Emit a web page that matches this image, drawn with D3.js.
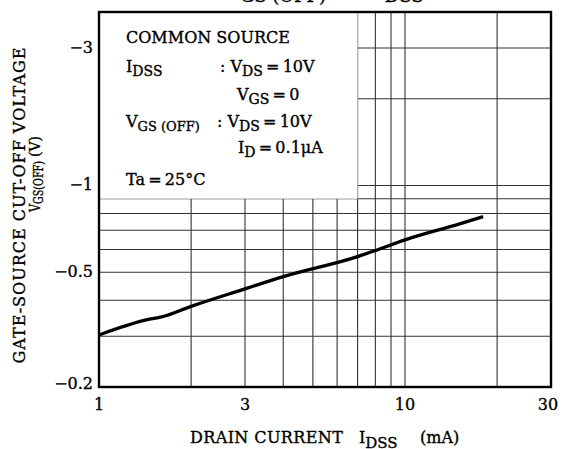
<!DOCTYPE html>
<html>
<head>
<meta charset="utf-8">
<script src="https://cdn.jsdelivr.net/npm/d3@7"></script>
<style>
  body { margin: 0; background: #fff; }
  svg { display: block; font-family: "DejaVu Serif", serif; }
  text { fill: #000; stroke: #000; stroke-width: 0.35px; }
</style>
</head>
<body>
<div id="chart-area"></div>
<script>
var width = 564;
var height = 449;
var margin = { top: 12, right: 13, bottom: 62, left: 99 };

// data
var idss = [1, 1.45, 1.6, 2, 3, 4, 7, 8, 10, 15, 18];
var vgsOff = [-0.303, -0.343, -0.350, -0.381, -0.438, -0.483, -0.567, -0.595, -0.648, -0.735, -0.78];

var xTicks = [1, 3, 10, 30];
var xGrid = [2, 3, 4, 5, 6, 7, 8, 9, 10, 20];
var yTicks = [-0.2, -0.5, -1, -3];
var yGrid = [-0.3, -0.4, -0.5, -0.6, -0.7, -0.8, -0.9, -1, -2, -3];

var svg = d3.select("#chart-area")
  .append("svg")
  .attr("width", width)
  .attr("height", height);

var x = d3.scaleLog()
  .domain([1, 30])
  .range([margin.left, width - margin.right]);

var y = d3.scaleLog()
  .domain([-0.2, -4])
  .range([height - margin.bottom, margin.top]);

var grid = svg.append("g").attr("class", "grid")
  .attr("stroke", "#333")
  .attr("stroke-width", 1.1);

grid.selectAll(".vg")
  .data(xGrid)
  .enter().append("line")
  .attr("x1", function(d) { return x(d); })
  .attr("x2", function(d) { return x(d); })
  .attr("y1", y.range()[0])
  .attr("y2", y.range()[1]);

grid.selectAll(".hg")
  .data(yGrid)
  .enter().append("line")
  .attr("x1", x.range()[0])
  .attr("x2", x.range()[1])
  .attr("y1", function(d) { return y(d); })
  .attr("y2", function(d) { return y(d); });

// white legend panel covers the upper-left grid (up to the 7 mA and -0.9 V lines)
svg.append("rect")
  .attr("x", x(1))
  .attr("y", y(-4))
  .attr("width", x(7) - x(1))
  .attr("height", y(-0.9) - y(-4))
  .attr("fill", "#fff");

// curve
var line = d3.line()
  .curve(d3.curveMonotoneX)
  .x(function(d) { return x(d[0]); })
  .y(function(d) { return y(d[1]); });

svg.append("path")
  .datum(d3.zip(idss, vgsOff))
  .attr("d", line)
  .attr("fill", "none")
  .attr("stroke", "#000")
  .attr("stroke-width", 3.3)
  .attr("stroke-linecap", "butt");

// frame
svg.append("rect")
  .attr("x", x.range()[0])
  .attr("y", y.range()[1])
  .attr("width", x.range()[1] - x.range()[0])
  .attr("height", y.range()[0] - y.range()[1])
  .attr("fill", "none")
  .attr("stroke", "#000")
  .attr("stroke-width", 2.4);

// tick labels
var fmtY = function(d) { return "\u2212" + String(Math.abs(d)); };

svg.append("g").selectAll("text")
  .data(yTicks)
  .enter().append("text")
  .attr("x", x.range()[0] - 6)
  .attr("y", function(d) { return y(d) + (d === -0.2 ? -4 : -1); })
  .attr("dy", "0.35em")
  .attr("text-anchor", "end")
  .attr("font-size", 16)
  .text(fmtY);

svg.append("g").selectAll("text")
  .data(xTicks)
  .enter().append("text")
  .attr("x", function(d) { return x(d) - (d === 30 ? 3 : 0); })
  .attr("y", y.range()[0] + 17)
  .attr("dy", "0.35em")
  .attr("text-anchor", "middle")
  .attr("font-size", 16)
  .text(function(d) { return d; });

// text with subscripts: parts = [[string, isSub], ...]
function rich(sel, px, py, parts, size, subSize, shift) {
  var t = sel.append("text")
    .attr("x", px)
    .attr("y", py)
    .attr("font-size", size)
    .attr("xml:space", "preserve");
  var down = false;
  parts.forEach(function(p) {
    var s = t.append("tspan").text(p[0]);
    if (p[1]) {
      s.attr("font-size", subSize);
      if (!down) { s.attr("dy", shift); down = true; }
    } else if (down) {
      s.attr("dy", -shift); down = false;
    }
  });
  return t;
}

var lg = svg.append("g");
rich(lg, 126, 43, [["COMMON SOURCE", false]], 16, 13, 4);
rich(lg, 126, 72, [["I", false], ["DSS", true]], 16, 14, 4);
rich(lg, 220, 72, [[": V", false], ["DS", true], ["\u2009=\u200910V", false]], 16, 14, 4);
rich(lg, 237, 100, [["V", false], ["GS", true], ["\u2009=\u20090", false]], 16, 14, 4);
rich(lg, 126, 127, [["V", false], ["GS (OFF)", true]], 16, 13, 4);
rich(lg, 217, 127, [[": V", false], ["DS", true], ["\u2009=\u200910V", false]], 16, 14, 4);
rich(lg, 238, 153, [["I", false], ["D", true], ["\u2009=\u20090.1\u03bcA", false]], 16, 14, 4);
rich(lg, 126, 185, [["Ta\u2009=\u200925\u00b0C", false]], 16, 13, 4);

// title, mostly cut off at the top edge as in the scan
rich(svg, 224, -6, [["V", false], ["GS (OFF)", true], ["  \u2014  I", false], ["DSS", true]], 22, 18, 8);

// x axis title
rich(svg, 190, 443, [["DRAIN CURRENT", false]], 16, 14, 4).attr("letter-spacing", 0.4);
rich(svg, 359, 443, [["I", false], ["DSS", true]], 16, 15, 5);
rich(svg, 420, 443, [["(mA)", false]], 16, 14, 4);

// y axis title
svg.append("text")
  .attr("transform", "translate(25,205) rotate(-90)")
  .attr("text-anchor", "middle")
  .attr("font-size", 16)
  .attr("letter-spacing", 1)
  .text("GATE-SOURCE CUT-OFF VOLTAGE");

// second line is set narrow in the scan
var yt1 = svg.append("g").attr("transform", "translate(40,212) rotate(-90) scale(0.8,1)");
rich(yt1, 0, 0, [["V", false], ["GS(OFF)", true]], 14, 12, 3);
var yt2 = svg.append("g").attr("transform", "translate(40,157) rotate(-90)");
rich(yt2, 0, 0, [["(V)", false]], 14, 12, 3);
</script>
</body>
</html>
